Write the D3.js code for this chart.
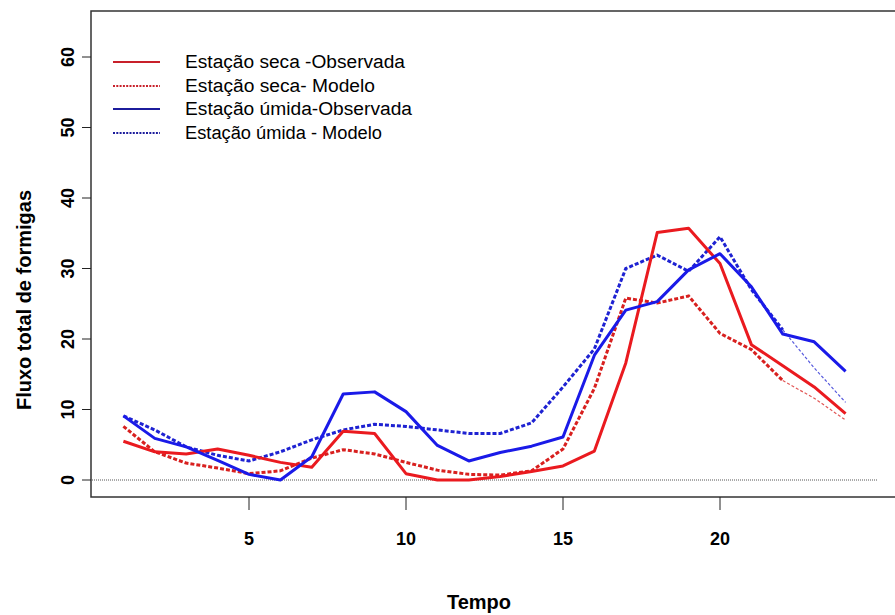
<!DOCTYPE html>
<html>
<head>
<meta charset="utf-8">
<script src="https://cdn.jsdelivr.net/npm/d3@7"></script>
<style>
  body { margin: 0; background: #fff; }
  text { font-family: "Liberation Sans", Arial, sans-serif; }
</style>
</head>
<body>
<div id="chart"></div>
<script>
// hours 1..24
var tempo = d3.range(1, 25);

var secaObs = [5.5, 4.0, 3.7, 4.4, 3.5, 2.5, 1.8, 6.9, 6.6, 0.9, 0, 0,
               0.5, 1.2, 2.0, 4.1, 16.6, 35.1, 35.7, 30.7, 19.2, 16.2, 13.2, 9.4];
var secaMod = [7.6, 4.0, 2.4, 1.7, 0.9, 1.3, 3.1, 4.3, 3.7, 2.5, 1.4, 0.8,
               0.7, 1.3, 4.4, 13.0, 25.8, 25.1, 26.1, 20.8, 18.5, 14.1, 11.6, 8.5];
var umidaObs = [9.1, 5.9, 4.7, 2.8, 0.8, 0, 3.3, 12.2, 12.5, 9.7, 4.9, 2.7,
                3.9, 4.8, 6.1, 17.7, 24.1, 25.3, 29.8, 32.1, 27.4, 20.7, 19.6, 15.4];
var umidaMod = [9.1, 7.1, 4.7, 3.5, 2.7, 4.0, 5.7, 7.1, 7.9, 7.6, 7.1, 6.6,
                6.6, 8.1, 13.2, 18.6, 30.0, 31.9, 29.6, 34.5, 27.0, 21.3, 15.9, 11.0];

var xTicks = [5, 10, 15, 20];
var yTicks = [0, 10, 20, 30, 40, 50, 60];

var legendLabels = ["Estação seca -Observada", "Estação seca- Modelo",
                    "Estação úmida-Observada", "Estação úmida - Modelo"];

var width = 895, height = 615;
var box = { left: 91, top: 11, right: 897, bottom: 497 };

var svg = d3.select("#chart").append("svg")
    .attr("width", width)
    .attr("height", height);

var x = d3.scaleLinear().domain([1, 24]).range([123.4, 845.6]);
var y = d3.scaleLinear().domain([0, 60]).range([480, 57]);

// plot frame
svg.append("rect")
    .attr("x", box.left).attr("y", box.top)
    .attr("width", box.right - box.left).attr("height", box.bottom - box.top)
    .attr("fill", "none").attr("stroke", "#333").attr("stroke-width", 1.5);

// zero reference line
svg.append("line")
    .attr("x1", box.left + 1).attr("x2", 877)
    .attr("y1", y(0)).attr("y2", y(0))
    .attr("stroke", "#555").attr("stroke-width", 1)
    .attr("stroke-dasharray", "1,1");

// x axis
var xAxis = svg.append("g").attr("transform", "translate(0," + box.bottom + ")");
xAxis.selectAll("line").data(xTicks).enter().append("line")
    .attr("x1", function(d) { return x(d); }).attr("x2", function(d) { return x(d); })
    .attr("y1", 0).attr("y2", 13)
    .attr("stroke", "#222").attr("stroke-width", 1);
xAxis.selectAll("text").data(xTicks).enter().append("text")
    .attr("x", function(d) { return x(d); })
    .attr("y", 48)
    .attr("text-anchor", "middle")
    .attr("font-size", 18).attr("font-weight", "bold")
    .text(function(d) { return d; });

// y axis
var yAxis = svg.append("g");
yAxis.selectAll("line").data(yTicks).enter().append("line")
    .attr("x1", 82).attr("x2", box.left)
    .attr("y1", function(d) { return y(d); }).attr("y2", function(d) { return y(d); })
    .attr("stroke", "#222").attr("stroke-width", 1);
yAxis.selectAll("text").data(yTicks).enter().append("text")
    .attr("transform", function(d) { return "translate(74," + y(d) + ") rotate(-90)"; })
    .attr("text-anchor", "middle")
    .attr("font-size", 18).attr("font-weight", "bold")
    .text(function(d) { return d; });

// axis titles
svg.append("text")
    .attr("x", 479).attr("y", 609)
    .attr("text-anchor", "middle")
    .attr("font-size", 20).attr("font-weight", "bold")
    .text("Tempo");
svg.append("text")
    .attr("transform", "translate(31,300) rotate(-90)")
    .attr("text-anchor", "middle")
    .attr("font-size", 20).attr("font-weight", "bold")
    .text("Fluxo total de formigas");

// series
var line = d3.line()
    .x(function(d) { return x(d.t); })
    .y(function(d) { return y(d.v); });

function pts(vals) {
  return vals.map(function(v, i) { return { t: tempo[i], v: v }; });
}

var series = [
  { vals: secaObs, color: "#ea1a1f", dash: null },
  { vals: secaMod, color: "#d8201f", dash: "4,2", tail: true },
  { vals: umidaObs, color: "#1a1ae8", dash: null },
  { vals: umidaMod, color: "#1e22d2", dash: "4,2", tail: true }
];

var drawOrder = [series[1], series[3], series[0], series[2]];
drawOrder.forEach(function(s) {
  var p = pts(s.vals);
  if (s.tail) {
    svg.append("path").datum(p.slice(0, 22))
        .attr("d", line).attr("fill", "none")
        .attr("stroke", s.color).attr("stroke-width", 3)
        .attr("stroke-dasharray", s.dash);
    svg.append("path").datum(p.slice(21))
        .attr("d", line).attr("fill", "none")
        .attr("stroke", s.color).attr("stroke-width", 1.2)
        .attr("stroke-opacity", 0.75)
        .attr("stroke-dasharray", "3,2");
  } else {
    svg.append("path").datum(p)
        .attr("d", line).attr("fill", "none")
        .attr("stroke", s.color).attr("stroke-width", 3)
        .attr("stroke-linejoin", "round");
  }
});

// legend
var legendColors = ["#c8202a", "#c8202a", "#1c1c9c", "#1c1c9c"];
var legendDash = [null, "2,1.3", null, "2,1.3"];
var legendY = [62, 86, 109, 133];
var legendW = [220, 190, 227, 197];
var lg = svg.append("g");
legendLabels.forEach(function(lbl, i) {
  lg.append("line")
      .attr("x1", 113).attr("x2", 160)
      .attr("y1", legendY[i]).attr("y2", legendY[i])
      .attr("stroke", legendColors[i])
      .attr("stroke-width", 2)
      .attr("stroke-dasharray", legendDash[i]);
  lg.append("text")
      .attr("x", 185).attr("y", legendY[i] + 6)
      .attr("font-size", 18)
      .attr("textLength", legendW[i])
      .attr("lengthAdjust", "spacingAndGlyphs")
      .text(lbl);
});
</script>
</body>
</html>
